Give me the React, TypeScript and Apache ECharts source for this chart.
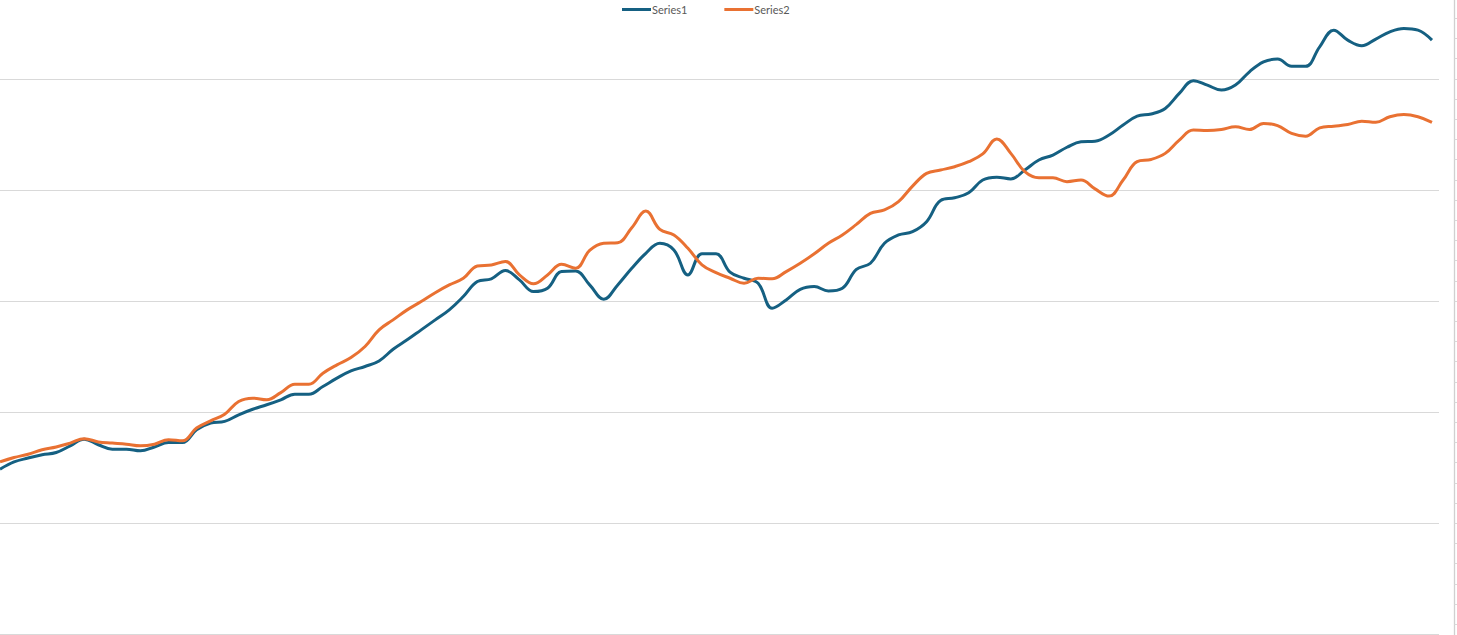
import React, { useEffect, useRef } from "react";
import * as echarts from "echarts";

const series1Name = "Series1";
const series2Name = "Series2";

const series1Values = [
  29.7, 31.0, 31.7, 32.3, 32.7, 33.9, 35.1, 34.1, 33.3, 33.3,
  33.0, 33.7, 34.5, 34.5, 36.8, 38.0, 38.3, 39.5, 40.5, 41.3,
  42.2, 43.2, 43.2, 44.6, 46.1, 47.4, 48.2, 49.2, 51.3, 53.0,
  54.8, 56.6, 58.4, 60.8, 63.5, 64.0, 65.5, 63.8, 61.7, 62.3,
  65.3, 65.4, 62.9, 60.3, 62.9, 65.9, 68.6, 70.4, 69.2, 64.7,
  68.5, 68.5, 65.2, 64.1, 63.2, 58.7, 60.2, 62.1, 62.6, 61.8,
  62.3, 65.7, 66.8, 70.4, 71.9, 72.5, 74.3, 78.1, 78.6, 79.5,
  81.8, 82.3, 82.0, 83.6, 85.4, 86.3, 87.7, 88.7, 88.8, 89.9,
  91.7, 93.3, 93.7, 94.7, 97.4, 99.7, 98.9, 98.0, 98.9, 101.3,
  103.1, 103.6, 102.3, 102.3, 105.8, 108.8, 107.0, 106.0, 107.2, 108.5,
  109.1, 108.8, 107.0,
];

const series2Values = [
  31.0, 31.8, 32.4, 33.2, 33.7, 34.4, 35.2, 34.6, 34.4, 34.2,
  33.9, 34.2, 35.0, 34.8, 37.1, 38.4, 39.6, 41.9, 42.5, 42.2,
  43.5, 45.0, 45.0, 47.0, 48.5, 49.8, 51.8, 54.8, 56.6, 58.4,
  59.9, 61.5, 62.9, 64.1, 66.3, 66.5, 67.1, 64.7, 63.1, 64.7,
  66.6, 65.9, 69.1, 70.4, 70.5, 73.2, 76.2, 72.9, 71.9, 69.5,
  66.5, 65.1, 64.1, 63.2, 64.1, 64.0, 65.3, 66.8, 68.5, 70.4,
  71.9, 73.8, 75.8, 76.4, 77.9, 80.7, 83.0, 83.6, 84.2, 85.1,
  86.5, 89.2, 86.6, 83.3, 82.2, 82.2, 81.5, 81.8, 80.2, 78.9,
  81.8, 85.1, 85.5, 86.6, 89.0, 90.8, 90.7, 90.9, 91.4, 90.9,
  92.0, 91.6, 90.2, 89.7, 91.2, 91.5, 91.8, 92.4, 92.2, 93.2,
  93.6, 93.2, 92.2,
];

const categories = series1Values.map((_, i) => String(i + 1));

const yMin = 0;
const yMax = 120;
const yInterval = 20;

const rightAxisMin = 0;
const rightAxisMax = 33;
const rightAxisInterval = 1;

export default function App() {
  const ref = useRef<HTMLDivElement>(null);

  useEffect(() => {
    if (!ref.current) return;
    const chart = echarts.init(ref.current, null, { renderer: "svg" });
    const gray = "#d9d9d9";
    chart.setOption({
      animation: false,
      backgroundColor: "#ffffff",
      textStyle: { fontFamily: "Lato, 'Noto Sans', sans-serif" },
      legend: {
        data: [series1Name, series2Name],
        left: 622,
        top: 4,
        padding: 0,
        itemGap: 37,
        itemWidth: 29,
        itemHeight: 3,
        icon: "rect",
        textStyle: {
          color: "#595959",
          fontSize: 11,
          fontFamily: "Lato, 'Noto Sans', sans-serif",
          padding: [0, 0, 0, -4],
        },
      },
      grid: [
        {
          left: -7,
          right: 18,
          top: -32,
          bottom: 1,
          containLabel: false,
          outerBoundsMode: "none",
        },
        {
          left: 1300,
          right: 2.5,
          top: -22.1,
          bottom: -9.5,
          containLabel: false,
          outerBoundsMode: "none",
        },
      ],
      xAxis: [
        {
          type: "category",
          gridIndex: 0,
          data: categories,
          boundaryGap: true,
          axisLine: { show: false },
          axisTick: { show: false },
          axisLabel: { show: false },
          splitLine: { show: false },
        },
        {
          type: "value",
          gridIndex: 1,
          min: 0,
          max: 1,
          show: false,
        },
      ],
      yAxis: [
        {
          type: "value",
          gridIndex: 0,
          min: yMin,
          max: yMax,
          interval: yInterval,
          axisLine: { show: false },
          axisTick: { show: false },
          axisLabel: { show: false },
          splitLine: { show: true, lineStyle: { color: gray, width: 1 } },
        },
        {
          type: "value",
          gridIndex: 1,
          position: "right",
          min: rightAxisMin,
          max: rightAxisMax,
          interval: rightAxisInterval,
          axisLine: { show: true, onZero: false, lineStyle: { color: "#d0d0d0", width: 1.3 } },
          axisTick: { show: true, inside: false, length: 3, lineStyle: { color: gray } },
          axisLabel: { show: false },
          splitLine: { show: false },
        },
      ],
      series: [
        {
          name: series1Name,
          type: "line",
          xAxisIndex: 0,
          yAxisIndex: 0,
          data: series1Values,
          smooth: 0.4,
          showSymbol: false,
          symbol: "none",
          lineStyle: { color: "#156082", width: 3 },
          itemStyle: { color: "#156082" },
        },
        {
          name: series2Name,
          type: "line",
          xAxisIndex: 0,
          yAxisIndex: 0,
          data: series2Values,
          smooth: 0.4,
          showSymbol: false,
          symbol: "none",
          lineStyle: { color: "#E97132", width: 3 },
          itemStyle: { color: "#E97132" },
        },
      ],
    });
    return () => chart.dispose();
  }, []);

  return (
    <div
      ref={ref}
      style={{ position: "fixed", left: 0, top: 0, width: 1457, height: 635 }}
    />
  );
}
